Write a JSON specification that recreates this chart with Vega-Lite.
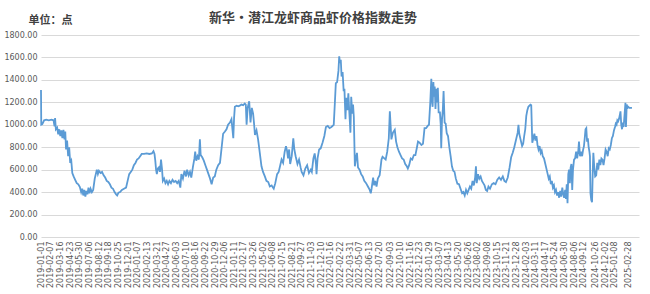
{
  "$schema": "https://vega.github.io/schema/vega-lite/v6.json",
  "width": 598,
  "height": 202,
  "autosize": {"type": "none"},
  "padding": {"left": 41, "top": 35, "right": 11, "bottom": 57},
  "background": "white",
  "config": {"view": {"stroke": null}},
  "title": {
    "text": "新华・潜江龙虾商品虾价格指数走势",
    "font": "Noto Sans CJK SC",
    "fontSize": 13,
    "fontWeight": "bold",
    "color": "#404040",
    "anchor": "middle",
    "dx": -27,
    "dy": 21,
    "offset": 10
  },
  "data": {
    "values": [
      {"date": "2019-01-01", "value": 1310}, {"date": "2019-01-02", "value": 1000}, {"date": "2019-01-06", "value": 1005},
      {"date": "2019-01-13", "value": 1040}, {"date": "2019-01-21", "value": 1045}, {"date": "2019-01-31", "value": 1040},
      {"date": "2019-02-10", "value": 1045}, {"date": "2019-02-18", "value": 1040}, {"date": "2019-02-22", "value": 985},
      {"date": "2019-02-24", "value": 1060}, {"date": "2019-02-27", "value": 960}, {"date": "2019-03-04", "value": 975},
      {"date": "2019-03-08", "value": 915}, {"date": "2019-03-12", "value": 960}, {"date": "2019-03-16", "value": 900},
      {"date": "2019-03-20", "value": 950}, {"date": "2019-03-24", "value": 880}, {"date": "2019-03-28", "value": 955},
      {"date": "2019-04-01", "value": 870}, {"date": "2019-04-04", "value": 940}, {"date": "2019-04-07", "value": 780},
      {"date": "2019-04-11", "value": 860}, {"date": "2019-04-15", "value": 720}, {"date": "2019-04-19", "value": 800},
      {"date": "2019-04-23", "value": 660}, {"date": "2019-04-27", "value": 680}, {"date": "2019-05-01", "value": 570},
      {"date": "2019-05-06", "value": 540}, {"date": "2019-05-12", "value": 510}, {"date": "2019-05-18", "value": 480},
      {"date": "2019-05-24", "value": 470}, {"date": "2019-05-30", "value": 445}, {"date": "2019-06-04", "value": 400},
      {"date": "2019-06-08", "value": 430}, {"date": "2019-06-12", "value": 370}, {"date": "2019-06-16", "value": 420},
      {"date": "2019-06-20", "value": 360}, {"date": "2019-06-24", "value": 410}, {"date": "2019-06-28", "value": 380},
      {"date": "2019-07-02", "value": 440}, {"date": "2019-07-06", "value": 390}, {"date": "2019-07-10", "value": 430},
      {"date": "2019-07-15", "value": 400}, {"date": "2019-07-20", "value": 420}, {"date": "2019-07-26", "value": 520},
      {"date": "2019-07-30", "value": 560}, {"date": "2019-08-03", "value": 600}, {"date": "2019-08-07", "value": 560},
      {"date": "2019-08-11", "value": 590}, {"date": "2019-08-17", "value": 570}, {"date": "2019-08-23", "value": 580},
      {"date": "2019-08-29", "value": 550}, {"date": "2019-09-04", "value": 530}, {"date": "2019-09-10", "value": 500},
      {"date": "2019-09-16", "value": 490}, {"date": "2019-09-22", "value": 470}, {"date": "2019-09-28", "value": 440},
      {"date": "2019-10-04", "value": 430}, {"date": "2019-10-10", "value": 400}, {"date": "2019-10-16", "value": 380},
      {"date": "2019-10-20", "value": 370}, {"date": "2019-10-25", "value": 395}, {"date": "2019-10-31", "value": 400},
      {"date": "2019-11-07", "value": 420}, {"date": "2019-11-15", "value": 430}, {"date": "2019-11-23", "value": 440},
      {"date": "2019-11-29", "value": 500}, {"date": "2019-12-05", "value": 560}, {"date": "2019-12-11", "value": 580},
      {"date": "2019-12-17", "value": 600}, {"date": "2019-12-23", "value": 640}, {"date": "2019-12-29", "value": 660},
      {"date": "2020-01-04", "value": 690}, {"date": "2020-01-10", "value": 700}, {"date": "2020-01-16", "value": 720},
      {"date": "2020-01-22", "value": 740}, {"date": "2020-01-31", "value": 740}, {"date": "2020-02-10", "value": 745},
      {"date": "2020-02-20", "value": 740}, {"date": "2020-03-01", "value": 745}, {"date": "2020-03-07", "value": 765},
      {"date": "2020-03-11", "value": 740}, {"date": "2020-03-14", "value": 680}, {"date": "2020-03-17", "value": 600},
      {"date": "2020-03-20", "value": 560}, {"date": "2020-03-24", "value": 610}, {"date": "2020-03-28", "value": 620},
      {"date": "2020-04-01", "value": 580}, {"date": "2020-04-05", "value": 690}, {"date": "2020-04-09", "value": 600},
      {"date": "2020-04-12", "value": 500}, {"date": "2020-04-17", "value": 520}, {"date": "2020-04-22", "value": 480},
      {"date": "2020-04-27", "value": 500}, {"date": "2020-05-02", "value": 470}, {"date": "2020-05-07", "value": 500},
      {"date": "2020-05-13", "value": 480}, {"date": "2020-05-19", "value": 510}, {"date": "2020-05-25", "value": 490},
      {"date": "2020-05-31", "value": 500}, {"date": "2020-06-06", "value": 480}, {"date": "2020-06-12", "value": 500},
      {"date": "2020-06-18", "value": 440}, {"date": "2020-06-22", "value": 560}, {"date": "2020-06-28", "value": 520},
      {"date": "2020-07-04", "value": 590}, {"date": "2020-07-10", "value": 540}, {"date": "2020-07-14", "value": 600},
      {"date": "2020-07-20", "value": 550}, {"date": "2020-07-25", "value": 580}, {"date": "2020-07-30", "value": 530},
      {"date": "2020-08-05", "value": 620}, {"date": "2020-08-11", "value": 700}, {"date": "2020-08-14", "value": 760},
      {"date": "2020-08-18", "value": 680}, {"date": "2020-08-23", "value": 720}, {"date": "2020-08-28", "value": 690},
      {"date": "2020-09-01", "value": 870}, {"date": "2020-09-04", "value": 730}, {"date": "2020-09-10", "value": 710},
      {"date": "2020-09-16", "value": 680}, {"date": "2020-09-22", "value": 640}, {"date": "2020-09-28", "value": 600},
      {"date": "2020-10-04", "value": 560}, {"date": "2020-10-10", "value": 520}, {"date": "2020-10-16", "value": 470},
      {"date": "2020-10-22", "value": 530}, {"date": "2020-10-28", "value": 540}, {"date": "2020-11-03", "value": 600},
      {"date": "2020-11-10", "value": 640}, {"date": "2020-11-17", "value": 660}, {"date": "2020-11-23", "value": 790},
      {"date": "2020-11-29", "value": 920}, {"date": "2020-12-06", "value": 940}, {"date": "2020-12-12", "value": 960},
      {"date": "2020-12-18", "value": 1000}, {"date": "2020-12-25", "value": 1020}, {"date": "2020-12-31", "value": 1050},
      {"date": "2021-01-07", "value": 880}, {"date": "2021-01-10", "value": 1060}, {"date": "2021-01-13", "value": 1160},
      {"date": "2021-01-20", "value": 1170}, {"date": "2021-01-26", "value": 1165}, {"date": "2021-02-01", "value": 1170},
      {"date": "2021-02-07", "value": 1180}, {"date": "2021-02-14", "value": 1175}, {"date": "2021-02-20", "value": 1190},
      {"date": "2021-02-24", "value": 1180}, {"date": "2021-02-27", "value": 1000}, {"date": "2021-03-03", "value": 1150},
      {"date": "2021-03-09", "value": 1210}, {"date": "2021-03-14", "value": 1020}, {"date": "2021-03-19", "value": 1150},
      {"date": "2021-03-24", "value": 1100}, {"date": "2021-03-28", "value": 1000}, {"date": "2021-03-31", "value": 910},
      {"date": "2021-04-06", "value": 950}, {"date": "2021-04-12", "value": 870}, {"date": "2021-04-18", "value": 760},
      {"date": "2021-04-25", "value": 630}, {"date": "2021-05-01", "value": 580}, {"date": "2021-05-08", "value": 540},
      {"date": "2021-05-14", "value": 500}, {"date": "2021-05-21", "value": 490}, {"date": "2021-05-27", "value": 450},
      {"date": "2021-06-03", "value": 460}, {"date": "2021-06-08", "value": 440}, {"date": "2021-06-11", "value": 430},
      {"date": "2021-06-17", "value": 480}, {"date": "2021-06-24", "value": 560}, {"date": "2021-06-30", "value": 580},
      {"date": "2021-07-06", "value": 640}, {"date": "2021-07-11", "value": 690}, {"date": "2021-07-17", "value": 660},
      {"date": "2021-07-23", "value": 760}, {"date": "2021-07-28", "value": 810}, {"date": "2021-08-01", "value": 770},
      {"date": "2021-08-05", "value": 700}, {"date": "2021-08-09", "value": 780}, {"date": "2021-08-13", "value": 650},
      {"date": "2021-08-19", "value": 720}, {"date": "2021-08-25", "value": 880}, {"date": "2021-08-29", "value": 780},
      {"date": "2021-09-03", "value": 720}, {"date": "2021-09-10", "value": 650}, {"date": "2021-09-16", "value": 690},
      {"date": "2021-09-22", "value": 620}, {"date": "2021-09-26", "value": 580}, {"date": "2021-10-03", "value": 550},
      {"date": "2021-10-10", "value": 610}, {"date": "2021-10-17", "value": 640}, {"date": "2021-10-24", "value": 570},
      {"date": "2021-10-31", "value": 600}, {"date": "2021-11-04", "value": 580}, {"date": "2021-11-10", "value": 700},
      {"date": "2021-11-15", "value": 745}, {"date": "2021-11-20", "value": 650}, {"date": "2021-11-22", "value": 560},
      {"date": "2021-11-26", "value": 700}, {"date": "2021-12-02", "value": 780}, {"date": "2021-12-08", "value": 790},
      {"date": "2021-12-15", "value": 840}, {"date": "2021-12-22", "value": 900}, {"date": "2021-12-28", "value": 980},
      {"date": "2022-01-04", "value": 990}, {"date": "2022-01-11", "value": 970}, {"date": "2022-01-18", "value": 980},
      {"date": "2022-01-27", "value": 1000}, {"date": "2022-01-31", "value": 1180}, {"date": "2022-02-04", "value": 1370},
      {"date": "2022-02-09", "value": 1380}, {"date": "2022-02-14", "value": 1480}, {"date": "2022-02-17", "value": 1610},
      {"date": "2022-02-20", "value": 1550}, {"date": "2022-02-23", "value": 1580}, {"date": "2022-02-26", "value": 1430},
      {"date": "2022-03-02", "value": 1470}, {"date": "2022-03-06", "value": 1300}, {"date": "2022-03-09", "value": 1320},
      {"date": "2022-03-13", "value": 1050}, {"date": "2022-03-16", "value": 1240}, {"date": "2022-03-20", "value": 1130},
      {"date": "2022-03-24", "value": 1280}, {"date": "2022-03-28", "value": 1100}, {"date": "2022-04-01", "value": 930},
      {"date": "2022-04-04", "value": 1250}, {"date": "2022-04-08", "value": 1100}, {"date": "2022-04-11", "value": 1180},
      {"date": "2022-04-14", "value": 1070}, {"date": "2022-04-18", "value": 630}, {"date": "2022-04-22", "value": 700},
      {"date": "2022-04-26", "value": 750}, {"date": "2022-04-30", "value": 620}, {"date": "2022-05-06", "value": 600},
      {"date": "2022-05-12", "value": 560}, {"date": "2022-05-18", "value": 540}, {"date": "2022-05-24", "value": 500},
      {"date": "2022-05-31", "value": 480}, {"date": "2022-06-07", "value": 450}, {"date": "2022-06-14", "value": 420},
      {"date": "2022-06-18", "value": 390}, {"date": "2022-06-21", "value": 430}, {"date": "2022-06-27", "value": 530},
      {"date": "2022-07-01", "value": 460}, {"date": "2022-07-05", "value": 500}, {"date": "2022-07-10", "value": 450},
      {"date": "2022-07-15", "value": 520}, {"date": "2022-07-22", "value": 550}, {"date": "2022-07-29", "value": 690},
      {"date": "2022-08-02", "value": 715}, {"date": "2022-08-09", "value": 700}, {"date": "2022-08-14", "value": 690},
      {"date": "2022-08-20", "value": 760}, {"date": "2022-08-26", "value": 880}, {"date": "2022-08-30", "value": 1120},
      {"date": "2022-09-05", "value": 870}, {"date": "2022-09-11", "value": 930}, {"date": "2022-09-18", "value": 955},
      {"date": "2022-09-23", "value": 850}, {"date": "2022-09-28", "value": 800}, {"date": "2022-10-04", "value": 760},
      {"date": "2022-10-10", "value": 730}, {"date": "2022-10-16", "value": 700}, {"date": "2022-10-22", "value": 690},
      {"date": "2022-10-28", "value": 650}, {"date": "2022-11-03", "value": 630}, {"date": "2022-11-07", "value": 610},
      {"date": "2022-11-12", "value": 640}, {"date": "2022-11-18", "value": 700}, {"date": "2022-11-24", "value": 690},
      {"date": "2022-11-30", "value": 730}, {"date": "2022-12-06", "value": 730}, {"date": "2022-12-12", "value": 800},
      {"date": "2022-12-16", "value": 850}, {"date": "2022-12-22", "value": 840}, {"date": "2022-12-29", "value": 820},
      {"date": "2023-01-04", "value": 830}, {"date": "2023-01-10", "value": 970}, {"date": "2023-01-16", "value": 970},
      {"date": "2023-01-22", "value": 990}, {"date": "2023-01-27", "value": 1000}, {"date": "2023-02-01", "value": 1200},
      {"date": "2023-02-05", "value": 1410}, {"date": "2023-02-08", "value": 1200}, {"date": "2023-02-10", "value": 1160},
      {"date": "2023-02-13", "value": 1380}, {"date": "2023-02-15", "value": 1250}, {"date": "2023-02-18", "value": 1340},
      {"date": "2023-02-21", "value": 1140}, {"date": "2023-02-24", "value": 1320}, {"date": "2023-02-27", "value": 1200},
      {"date": "2023-03-02", "value": 1330}, {"date": "2023-03-05", "value": 1110}, {"date": "2023-03-10", "value": 1110},
      {"date": "2023-03-13", "value": 1000}, {"date": "2023-03-15", "value": 790}, {"date": "2023-03-18", "value": 1050},
      {"date": "2023-03-21", "value": 1130}, {"date": "2023-03-24", "value": 1300}, {"date": "2023-03-28", "value": 1020},
      {"date": "2023-04-01", "value": 1010}, {"date": "2023-04-05", "value": 925}, {"date": "2023-04-10", "value": 900},
      {"date": "2023-04-15", "value": 800}, {"date": "2023-04-20", "value": 720}, {"date": "2023-04-25", "value": 630},
      {"date": "2023-04-30", "value": 590}, {"date": "2023-05-05", "value": 580}, {"date": "2023-05-10", "value": 520},
      {"date": "2023-05-16", "value": 475}, {"date": "2023-05-22", "value": 470}, {"date": "2023-05-28", "value": 430},
      {"date": "2023-06-03", "value": 390}, {"date": "2023-06-08", "value": 400}, {"date": "2023-06-13", "value": 370},
      {"date": "2023-06-18", "value": 420}, {"date": "2023-06-23", "value": 390}, {"date": "2023-06-28", "value": 420},
      {"date": "2023-07-03", "value": 450}, {"date": "2023-07-08", "value": 430}, {"date": "2023-07-13", "value": 500},
      {"date": "2023-07-18", "value": 460}, {"date": "2023-07-23", "value": 530}, {"date": "2023-07-26", "value": 630},
      {"date": "2023-07-29", "value": 480}, {"date": "2023-08-03", "value": 560}, {"date": "2023-08-08", "value": 520},
      {"date": "2023-08-13", "value": 540}, {"date": "2023-08-18", "value": 500}, {"date": "2023-08-23", "value": 480},
      {"date": "2023-08-28", "value": 460}, {"date": "2023-09-02", "value": 420}, {"date": "2023-09-07", "value": 410},
      {"date": "2023-09-12", "value": 450}, {"date": "2023-09-18", "value": 430}, {"date": "2023-09-25", "value": 470},
      {"date": "2023-10-02", "value": 480}, {"date": "2023-10-09", "value": 470}, {"date": "2023-10-16", "value": 510},
      {"date": "2023-10-23", "value": 530}, {"date": "2023-10-30", "value": 510}, {"date": "2023-11-06", "value": 540},
      {"date": "2023-11-12", "value": 500}, {"date": "2023-11-18", "value": 490}, {"date": "2023-11-25", "value": 530},
      {"date": "2023-12-02", "value": 620}, {"date": "2023-12-08", "value": 710}, {"date": "2023-12-14", "value": 750},
      {"date": "2023-12-20", "value": 800}, {"date": "2023-12-26", "value": 860}, {"date": "2024-01-02", "value": 930},
      {"date": "2024-01-05", "value": 1000}, {"date": "2024-01-08", "value": 920}, {"date": "2024-01-11", "value": 890},
      {"date": "2024-01-15", "value": 850}, {"date": "2024-01-19", "value": 810}, {"date": "2024-01-23", "value": 830},
      {"date": "2024-01-27", "value": 900}, {"date": "2024-01-31", "value": 960}, {"date": "2024-02-04", "value": 1080},
      {"date": "2024-02-08", "value": 1130}, {"date": "2024-02-12", "value": 1160}, {"date": "2024-02-16", "value": 1170},
      {"date": "2024-02-20", "value": 1180}, {"date": "2024-02-23", "value": 1175}, {"date": "2024-02-27", "value": 840},
      {"date": "2024-03-02", "value": 880}, {"date": "2024-03-06", "value": 920}, {"date": "2024-03-10", "value": 860},
      {"date": "2024-03-14", "value": 900}, {"date": "2024-03-18", "value": 820}, {"date": "2024-03-22", "value": 780},
      {"date": "2024-03-26", "value": 810}, {"date": "2024-03-30", "value": 750}, {"date": "2024-04-03", "value": 770},
      {"date": "2024-04-07", "value": 720}, {"date": "2024-04-12", "value": 700}, {"date": "2024-04-17", "value": 650},
      {"date": "2024-04-22", "value": 600}, {"date": "2024-04-26", "value": 560}, {"date": "2024-04-30", "value": 520},
      {"date": "2024-05-04", "value": 540}, {"date": "2024-05-08", "value": 470}, {"date": "2024-05-12", "value": 500},
      {"date": "2024-05-16", "value": 440}, {"date": "2024-05-20", "value": 460}, {"date": "2024-05-24", "value": 400},
      {"date": "2024-05-28", "value": 420}, {"date": "2024-06-01", "value": 370}, {"date": "2024-06-05", "value": 400},
      {"date": "2024-06-09", "value": 350}, {"date": "2024-06-13", "value": 410}, {"date": "2024-06-17", "value": 360},
      {"date": "2024-06-21", "value": 440}, {"date": "2024-06-25", "value": 380}, {"date": "2024-06-28", "value": 350},
      {"date": "2024-07-02", "value": 420}, {"date": "2024-07-05", "value": 340}, {"date": "2024-07-08", "value": 470},
      {"date": "2024-07-11", "value": 300}, {"date": "2024-07-14", "value": 560}, {"date": "2024-07-17", "value": 600},
      {"date": "2024-07-20", "value": 480}, {"date": "2024-07-23", "value": 620}, {"date": "2024-07-26", "value": 650},
      {"date": "2024-07-29", "value": 420}, {"date": "2024-08-01", "value": 600}, {"date": "2024-08-05", "value": 690},
      {"date": "2024-08-09", "value": 700}, {"date": "2024-08-13", "value": 760}, {"date": "2024-08-17", "value": 700},
      {"date": "2024-08-21", "value": 760}, {"date": "2024-08-24", "value": 850}, {"date": "2024-08-28", "value": 720},
      {"date": "2024-09-01", "value": 760}, {"date": "2024-09-05", "value": 720}, {"date": "2024-09-09", "value": 780},
      {"date": "2024-09-12", "value": 810}, {"date": "2024-09-15", "value": 880}, {"date": "2024-09-18", "value": 960},
      {"date": "2024-09-21", "value": 970}, {"date": "2024-09-24", "value": 850}, {"date": "2024-09-27", "value": 880},
      {"date": "2024-09-30", "value": 800}, {"date": "2024-10-03", "value": 760}, {"date": "2024-10-05", "value": 720},
      {"date": "2024-10-07", "value": 390}, {"date": "2024-10-10", "value": 330}, {"date": "2024-10-13", "value": 310},
      {"date": "2024-10-16", "value": 600}, {"date": "2024-10-18", "value": 750}, {"date": "2024-10-21", "value": 640},
      {"date": "2024-10-25", "value": 540}, {"date": "2024-10-29", "value": 550}, {"date": "2024-11-02", "value": 660},
      {"date": "2024-11-06", "value": 600}, {"date": "2024-11-10", "value": 690}, {"date": "2024-11-14", "value": 640},
      {"date": "2024-11-18", "value": 700}, {"date": "2024-11-22", "value": 690}, {"date": "2024-11-26", "value": 640},
      {"date": "2024-11-30", "value": 700}, {"date": "2024-12-04", "value": 780}, {"date": "2024-12-08", "value": 760},
      {"date": "2024-12-12", "value": 720}, {"date": "2024-12-16", "value": 790}, {"date": "2024-12-20", "value": 780},
      {"date": "2024-12-24", "value": 820}, {"date": "2024-12-28", "value": 880}, {"date": "2025-01-01", "value": 900},
      {"date": "2025-01-05", "value": 950}, {"date": "2025-01-09", "value": 980}, {"date": "2025-01-12", "value": 1010},
      {"date": "2025-01-15", "value": 1000}, {"date": "2025-01-18", "value": 1040}, {"date": "2025-01-21", "value": 1030},
      {"date": "2025-01-24", "value": 1050}, {"date": "2025-01-27", "value": 1080}, {"date": "2025-01-30", "value": 1120},
      {"date": "2025-02-02", "value": 1000}, {"date": "2025-02-05", "value": 960}, {"date": "2025-02-08", "value": 1020},
      {"date": "2025-02-11", "value": 980}, {"date": "2025-02-15", "value": 1100}, {"date": "2025-02-18", "value": 1195},
      {"date": "2025-02-20", "value": 980}, {"date": "2025-02-23", "value": 1180}, {"date": "2025-02-26", "value": 1150},
      {"date": "2025-03-01", "value": 1160}, {"date": "2025-03-05", "value": 1150}, {"date": "2025-03-10", "value": 1150},
      {"date": "2025-03-15", "value": 1150}
    ]
  },
  "mark": {"type": "line", "color": "#5b9bd5", "strokeWidth": 1.8, "interpolate": "linear"},
  "encoding": {
    "x": {
      "field": "date",
      "type": "temporal",
      "scale": {
        "type": "utc",
        "domain": [
          {"year": 2019, "month": 1, "date": 1, "utc": true},
          {"year": 2025, "month": 4, "date": 11, "utc": true}
        ],
        "nice": false
      },
      "axis": {
        "title": null,
        "grid": false,
        "domain": false,
        "ticks": false,
        "labelAngle": 270,
        "labelFont": "DejaVu Sans",
        "labelFontSize": 8,
        "labelColor": "#595959",
        "labelPadding": 4,
        "labelOverlap": "greedy",
        "labelSeparation": -5,
        "labelExpr": "utcFormat(datum.value, '%Y-%m-%d')",
        "values": [
          {"year": 2019, "month": 1, "date": 1, "utc": true}, {"year": 2019, "month": 2, "date": 7, "utc": true},
          {"year": 2019, "month": 3, "date": 16, "utc": true}, {"year": 2019, "month": 4, "date": 23, "utc": true},
          {"year": 2019, "month": 5, "date": 30, "utc": true}, {"year": 2019, "month": 7, "date": 6, "utc": true},
          {"year": 2019, "month": 8, "date": 12, "utc": true}, {"year": 2019, "month": 9, "date": 18, "utc": true},
          {"year": 2019, "month": 10, "date": 25, "utc": true}, {"year": 2019, "month": 12, "date": 1, "utc": true},
          {"year": 2020, "month": 1, "date": 7, "utc": true}, {"year": 2020, "month": 2, "date": 13, "utc": true},
          {"year": 2020, "month": 3, "date": 21, "utc": true}, {"year": 2020, "month": 4, "date": 27, "utc": true},
          {"year": 2020, "month": 6, "date": 3, "utc": true}, {"year": 2020, "month": 7, "date": 10, "utc": true},
          {"year": 2020, "month": 8, "date": 16, "utc": true}, {"year": 2020, "month": 9, "date": 22, "utc": true},
          {"year": 2020, "month": 10, "date": 29, "utc": true}, {"year": 2020, "month": 12, "date": 6, "utc": true},
          {"year": 2021, "month": 1, "date": 11, "utc": true}, {"year": 2021, "month": 2, "date": 17, "utc": true},
          {"year": 2021, "month": 3, "date": 26, "utc": true}, {"year": 2021, "month": 5, "date": 2, "utc": true},
          {"year": 2021, "month": 6, "date": 8, "utc": true}, {"year": 2021, "month": 7, "date": 15, "utc": true},
          {"year": 2021, "month": 8, "date": 21, "utc": true}, {"year": 2021, "month": 9, "date": 27, "utc": true},
          {"year": 2021, "month": 11, "date": 3, "utc": true}, {"year": 2021, "month": 12, "date": 10, "utc": true},
          {"year": 2022, "month": 1, "date": 16, "utc": true}, {"year": 2022, "month": 2, "date": 22, "utc": true},
          {"year": 2022, "month": 3, "date": 31, "utc": true}, {"year": 2022, "month": 5, "date": 7, "utc": true},
          {"year": 2022, "month": 6, "date": 13, "utc": true}, {"year": 2022, "month": 7, "date": 20, "utc": true},
          {"year": 2022, "month": 9, "date": 3, "utc": true}, {"year": 2022, "month": 10, "date": 10, "utc": true},
          {"year": 2022, "month": 11, "date": 16, "utc": true}, {"year": 2022, "month": 12, "date": 23, "utc": true},
          {"year": 2023, "month": 1, "date": 29, "utc": true}, {"year": 2023, "month": 3, "date": 7, "utc": true},
          {"year": 2023, "month": 4, "date": 13, "utc": true}, {"year": 2023, "month": 5, "date": 20, "utc": true},
          {"year": 2023, "month": 6, "date": 26, "utc": true}, {"year": 2023, "month": 8, "date": 2, "utc": true},
          {"year": 2023, "month": 9, "date": 8, "utc": true}, {"year": 2023, "month": 10, "date": 15, "utc": true},
          {"year": 2023, "month": 11, "date": 21, "utc": true}, {"year": 2023, "month": 12, "date": 28, "utc": true},
          {"year": 2024, "month": 2, "date": 3, "utc": true}, {"year": 2024, "month": 3, "date": 11, "utc": true},
          {"year": 2024, "month": 4, "date": 17, "utc": true}, {"year": 2024, "month": 5, "date": 24, "utc": true},
          {"year": 2024, "month": 6, "date": 30, "utc": true}, {"year": 2024, "month": 8, "date": 6, "utc": true},
          {"year": 2024, "month": 9, "date": 12, "utc": true}, {"year": 2024, "month": 10, "date": 26, "utc": true},
          {"year": 2024, "month": 12, "date": 2, "utc": true}, {"year": 2025, "month": 1, "date": 8, "utc": true},
          {"year": 2025, "month": 2, "date": 28, "utc": true}
        ]
      }
    },
    "y": {
      "field": "value",
      "type": "quantitative",
      "scale": {"domain": [0, 1800], "nice": false},
      "axis": {
        "title": "单位：点",
        "titleAngle": 0,
        "titleAlign": "left",
        "titleBaseline": "middle",
        "titleX": -13,
        "titleY": -15,
        "titleFont": "Noto Sans CJK SC",
        "titleFontSize": 11,
        "titleFontWeight": "bold",
        "titleColor": "#404040",
        "values": [0, 200, 400, 600, 800, 1000, 1200, 1400, 1600, 1800],
        "format": ".2f",
        "grid": true,
        "gridColor": "#d9d9d9",
        "gridWidth": 1,
        "domain": false,
        "ticks": false,
        "labelFont": "DejaVu Sans",
        "labelFontSize": 8,
        "labelColor": "#595959",
        "labelPadding": 4
      }
    }
  }
}
